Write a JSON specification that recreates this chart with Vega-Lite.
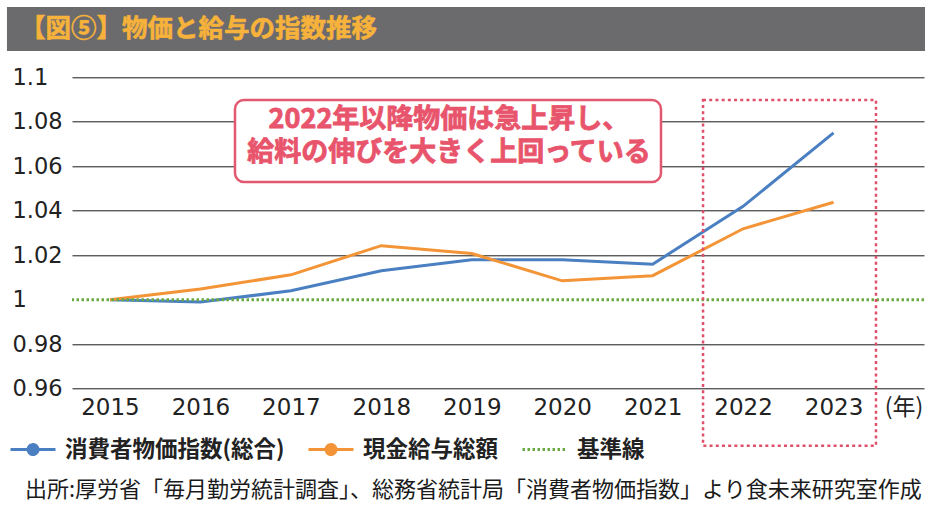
{
  "$schema": "https://vega.github.io/schema/vega-lite/v6.json",
  "width": 852,
  "height": 311.4,
  "autosize": {"type": "none"},
  "padding": {"left": 72, "top": 77.3, "right": 14, "bottom": 125.3},
  "background": "white",
  "config": {"view": {"stroke": null}, "font": "Noto Sans CJK JP"},
  "datasets": {
    "series": [
      {"year": 2015, "series": "消費者物価指数(総合)", "value": 1.0},
      {"year": 2016, "series": "消費者物価指数(総合)", "value": 0.999},
      {"year": 2017, "series": "消費者物価指数(総合)", "value": 1.004},
      {"year": 2018, "series": "消費者物価指数(総合)", "value": 1.013},
      {"year": 2019, "series": "消費者物価指数(総合)", "value": 1.018},
      {"year": 2020, "series": "消費者物価指数(総合)", "value": 1.018},
      {"year": 2021, "series": "消費者物価指数(総合)", "value": 1.016},
      {"year": 2022, "series": "消費者物価指数(総合)", "value": 1.042},
      {"year": 2023, "series": "消費者物価指数(総合)", "value": 1.075},
      {"year": 2015, "series": "現金給与総額", "value": 1.0},
      {"year": 2016, "series": "現金給与総額", "value": 1.0048},
      {"year": 2017, "series": "現金給与総額", "value": 1.0112},
      {"year": 2018, "series": "現金給与総額", "value": 1.0243},
      {"year": 2019, "series": "現金給与総額", "value": 1.0208},
      {"year": 2020, "series": "現金給与総額", "value": 1.0085},
      {"year": 2021, "series": "現金給与総額", "value": 1.0108},
      {"year": 2022, "series": "現金給与総額", "value": 1.0319},
      {"year": 2023, "series": "現金給与総額", "value": 1.0438}
    ],
    "one": [{}]
  },
  "data": {"name": "series"},
  "layer": [
    {
      "data": {"name": "one"},
      "mark": {"type": "rect", "fill": "#6b6b6e"},
      "encoding": {
        "x": {"datum": 2013.861, "type": "quantitative"},
        "x2": {"datum": 2024.011},
        "y": {"datum": 1.13161, "type": "quantitative"},
        "y2": {"datum": 1.11183}
      }
    },
    {
      "data": {"name": "one"},
      "mark": {"type": "text", "align": "left", "baseline": "middle", "font": "Noto Sans CJK JP", "fontWeight": "bold", "fontSize": 25.5, "color": "#f6b23a", "stroke": "#f6b23a", "strokeWidth": 0.6},
      "encoding": {
        "x": {"datum": 2014.005, "type": "quantitative"},
        "y": {"datum": 1.1218, "type": "quantitative"},
        "text": {"value": "【図⑤】物価と給与の指数推移"}
      }
    },
    {
      "mark": {"type": "line", "strokeWidth": 3},
      "encoding": {
        "x": {
          "field": "year", "type": "quantitative",
          "scale": {"domain": [2014.58, 2024], "nice": false, "zero": false},
          "axis": {
            "title": null, "values": [2015, 2016, 2017, 2018, 2019, 2020, 2021, 2022, 2023],
            "format": "d", "grid": false, "domain": false, "ticks": false, "tickSize": 0,
            "labelFont": "DejaVu Sans", "labelFontSize": 23, "labelColor": "#222",
            "labelPadding": 8, "labelBaseline": "top"
          }
        },
        "y": {
          "field": "value", "type": "quantitative",
          "scale": {"domain": [0.96, 1.1], "nice": false, "zero": false},
          "axis": {
            "title": null, "values": [0.96, 0.98, 1, 1.02, 1.04, 1.06, 1.08, 1.1],
            "format": ".3~g", "grid": true, "gridWidth": 1,
            "gridColor": {"condition": {"test": "datum.value === 1", "value": "transparent"}, "value": "#1a1a1a"},
            "domain": false, "ticks": false, "tickSize": 0,
            "labelAlign": "left", "labelPadding": 60, "labelBaseline": "middle",
            "labelFont": "DejaVu Sans", "labelFontSize": 22.5, "labelColor": "#222"
          }
        },
        "color": {
          "field": "series", "type": "nominal",
          "scale": {
            "domain": ["消費者物価指数(総合)", "現金給与総額", "基準線"],
            "range": ["#4a7fc1", "#f39436", "#6aaa45"]
          },
          "legend": {
            "title": null, "orient": "none", "direction": "horizontal",
            "legendX": -63, "legendY": 348,
            "symbolType": "M-1,0L1,0M0.22,0A0.22,0.22,0,1,1,-0.22,0A0.22,0.22,0,1,1,0.22,0",
            "symbolSize": 2025, "symbolStrokeWidth": 3,
            "labelFont": "Noto Sans CJK JP", "labelFontSize": 22.5, "labelFontWeight": "bold",
            "labelColor": "#222", "labelOffset": 8, "columnPadding": 17, "labelLimit": 0,
            "encode": {
              "symbols": {
                "update": {
                  "shape": {"signal": "datum.value === '基準線' ? 'M-1,0L1,0' : 'M-1,0L1,0M0.22,0A0.22,0.22,0,1,1,-0.22,0A0.22,0.22,0,1,1,0.22,0'"},
                  "strokeDash": {"signal": "datum.value === '基準線' ? [2.5, 2.5] : [1, 0]"},
                  "fill": {"signal": "scale('color', datum.value)"}
                }
              }
            }
          }
        }
      }
    },
    {
      "data": {"name": "one"},
      "mark": {"type": "rule", "strokeWidth": 3, "strokeDash": [2.5, 2.5]},
      "encoding": {
        "y": {"datum": 1, "type": "quantitative"},
        "color": {"datum": "基準線", "type": "nominal"}
      }
    },
    {
      "data": {"name": "one"},
      "mark": {"type": "rect", "fill": "white", "stroke": "#e2586f", "strokeWidth": 2.5, "cornerRadius": 9},
      "encoding": {
        "x": {"datum": 2016.382, "type": "quantitative"},
        "x2": {"datum": 2021.092},
        "y": {"datum": 1.0898, "type": "quantitative"},
        "y2": {"datum": 1.0529}
      }
    },
    {
      "data": {"name": "one"},
      "mark": {"type": "text", "align": "center", "baseline": "middle", "font": "Noto Sans CJK JP", "fontWeight": "bold", "fontSize": 27, "color": "#e8546b", "stroke": "#e8546b", "strokeWidth": 0.8, "lineHeight": 33},
      "encoding": {
        "x": {"datum": 2018.748, "type": "quantitative"},
        "y": {"datum": 1.0806, "type": "quantitative"},
        "text": {"value": ["2022年以降物価は急上昇し、", "給料の伸びを大きく上回っている"]}
      }
    },
    {
      "data": {"name": "one"},
      "mark": {"type": "rect", "fill": "transparent", "stroke": "#e0506a", "strokeWidth": 2.5, "strokeDash": [3, 3.2]},
      "encoding": {
        "x": {"datum": 2021.557, "type": "quantitative"},
        "x2": {"datum": 2023.469},
        "y": {"datum": 1.0898, "type": "quantitative"},
        "y2": {"datum": 0.9344}
      }
    },
    {
      "data": {"name": "one"},
      "mark": {"type": "text", "align": "center", "baseline": "top", "dy": 8, "font": "Noto Sans CJK JP", "fontWeight": "normal", "fontSize": 23, "color": "#222"},
      "encoding": {
        "x": {"datum": 2023.779, "type": "quantitative"},
        "y": {"datum": 0.96, "type": "quantitative"},
        "text": {"value": "(年)"}
      }
    },
    {
      "data": {"name": "one"},
      "mark": {"type": "text", "align": "left", "baseline": "middle", "font": "Noto Sans CJK JP", "fontWeight": "normal", "fontSize": 22, "color": "#1a1a1a"},
      "encoding": {
        "x": {"datum": 2014.06, "type": "quantitative"},
        "y": {"datum": 0.9145, "type": "quantitative"},
        "text": {"value": "出所:厚労省「毎月勤労統計調査」、総務省統計局「消費者物価指数」より食未来研究室作成"}
      }
    }
  ]
}
